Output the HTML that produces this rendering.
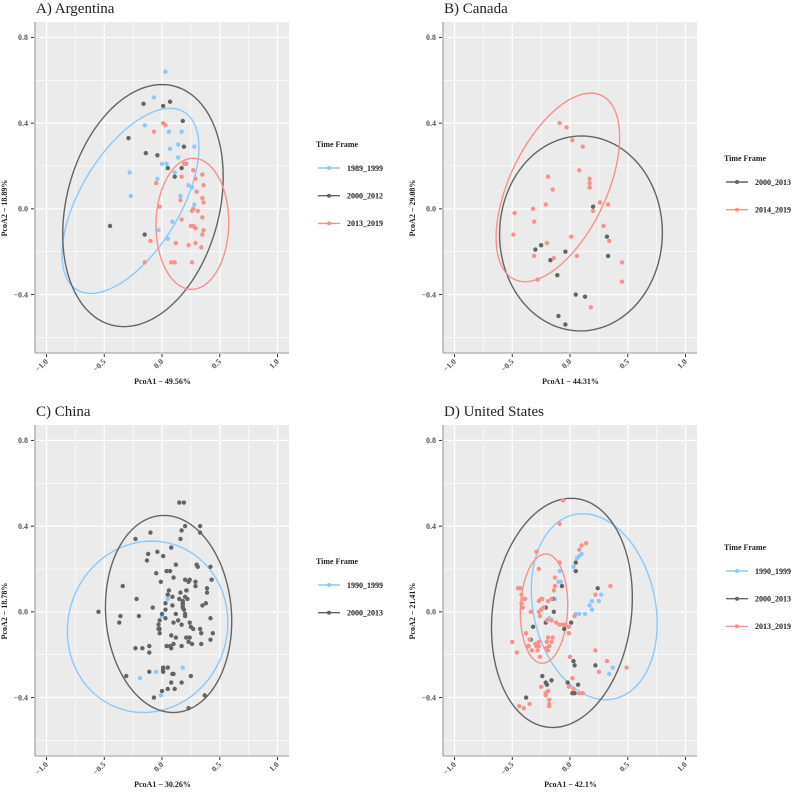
<!DOCTYPE html>
<html><head><meta charset="utf-8">
<style>
html,body{margin:0;padding:0;background:#fff;}
svg{display:block;font-family:"Liberation Serif",serif;}
</style></head>
<body>
<svg id="fig" width="800" height="792" viewBox="0 0 800 792" xmlns="http://www.w3.org/2000/svg"></svg>
<script>
// ---------- Data ----------
const xTicks = [-1.0, -0.5, 0.0, 0.5, 1.0];
const xTickLabels = ["\u22121.0", "\u22120.5", "0.0", "0.5", "1.0"];
const yTicks = [0.8, 0.4, 0.0, -0.4];
const yTickLabels = ["0.8", "0.4", "0.0", "\u22120.4"];
const xMinor = [-0.75, -0.25, 0.25, 0.75];
const yMinor = [0.6, 0.2, -0.2, -0.6];

// Argentina
const arg1989X = [0.03,-0.07,-0.15,0.06,0.17,0.28,0.14,0.07,0.14,0.00,0.04,-0.28,0.11,-0.04,0.23,0.26,0.16,0.28,-0.27,0.09,-0.03,0.05];
const arg1989Y = [0.64,0.52,0.39,0.36,0.36,0.29,0.30,0.28,0.24,0.21,0.21,0.17,0.17,0.14,0.11,0.10,0.06,0.02,0.06,-0.06,-0.10,-0.14];
const arg2000X = [-0.16,0.01,0.07,0.18,-0.29,-0.14,-0.04,0.19,0.05,0.17,0.11,-0.45,-0.15];
const arg2000Y = [0.49,0.48,0.50,0.41,0.33,0.26,0.25,0.29,0.19,0.19,0.15,-0.08,-0.12];
const arg2013X = [-0.07,0.01,0.03,0.19,0.21,0.17,0.27,0.35,0.29,0.36,-0.05,0.30,0.35,0.36,0.16,-0.02,0.27,0.26,0.31,0.17,0.35,0.36,0.25,0.27,0.29,0.35,0.29,0.12,0.23,0.34,-0.10,-0.15,0.08,0.11,0.26];
const arg2013Y = [0.36,0.40,0.39,0.21,0.21,0.15,0.18,0.16,0.14,0.11,0.12,0.08,0.05,0.03,0.04,0.01,0.00,-0.01,-0.01,-0.05,-0.04,-0.10,-0.08,-0.08,-0.09,-0.12,-0.16,-0.16,-0.17,-0.18,-0.15,-0.25,-0.25,-0.25,-0.25];
// ellipse: [centerX, centerY, halfWidthX, halfHeightY, topShiftX]
const argEll1989 = [-0.273, 0.037, 0.593, 0.432, 0.343];
const argEll2000 = [-0.165, 0.015, 0.695, 0.565, 0.165];
const argEll2013 = [0.263, -0.070, 0.315, 0.306, 0.007];

// Canada
const can2000X = [0.20,-0.25,-0.30,-0.04,-0.17,0.32,0.33,-0.11,0.05,0.13,-0.10,-0.04];
const can2000Y = [0.01,-0.17,-0.19,-0.20,-0.24,-0.13,-0.22,-0.31,-0.40,-0.41,-0.50,-0.54];
const can2014X = [-0.09,-0.03,0.02,0.11,0.08,0.17,0.17,0.17,-0.19,-0.15,-0.21,-0.32,-0.48,-0.31,-0.49,0.26,0.33,0.20,0.29,0.34,0.01,-0.20,-0.31,-0.14,0.06,-0.28,0.45,0.45,0.18];
const can2014Y = [0.40,0.38,0.32,0.29,0.18,0.14,0.12,0.10,0.15,0.09,0.02,0.00,-0.02,-0.06,-0.12,0.03,0.02,-0.01,-0.08,-0.15,-0.13,-0.16,-0.22,-0.23,-0.22,-0.33,-0.25,-0.34,-0.46];
const canEll2000 = [0.095, -0.115, 0.705, 0.455, 0.005];
const canEll2014 = [-0.105, 0.100, 0.535, 0.440, 0.285];

// China
const chn1990X = [0.22,0.05,0.00,0.18,-0.05,-0.19,-0.01];
const chn1990Y = [0.10,0.06,-0.02,-0.26,-0.28,-0.31,-0.39];
const chn2000X = [0.15,0.19,0.20,0.17,0.16,0.33,0.33,-0.23,-0.10,0.08,-0.04,-0.12,0.01,-0.13,0.12,-0.05,0.04,0.07,0.30,0.31,0.42,-0.01,0.10,0.20,0.24,0.23,0.29,0.43,-0.34,0.06,0.16,0.21,0.39,0.39,-0.22,0.05,0.09,0.20,0.15,0.18,0.22,0.18,-0.08,0.00,0.03,0.09,0.18,0.18,0.19,0.20,0.38,0.35,-0.36,-0.37,-0.20,-0.02,-0.03,-0.02,0.03,0.10,0.14,0.17,0.20,0.24,0.25,0.27,0.33,0.34,0.42,0.44,0.42,0.08,0.12,0.21,0.24,0.23,0.26,0.17,0.04,0.07,0.08,0.10,0.34,-0.23,-0.17,-0.11,-0.11,-0.02,-0.11,0.01,0.01,0.05,0.09,0.10,0.01,0.08,0.17,0.05,0.00,0.11,-0.07,0.23,0.25,-0.31,0.37,-0.55,0.29,0.03,0.12,-0.03];
const chn2000Y = [0.51,0.51,0.40,0.38,0.34,0.40,0.37,0.34,0.37,0.30,0.28,0.27,0.26,0.24,0.22,0.18,0.19,0.19,0.22,0.21,0.21,0.14,0.16,0.15,0.15,0.14,0.14,0.15,0.12,0.10,0.09,0.10,0.11,0.09,0.06,0.08,0.07,0.07,0.06,0.05,0.06,0.04,0.02,-0.01,0.01,0.03,0.03,0.02,0.01,-0.01,0.04,0.03,-0.02,-0.05,-0.02,-0.04,-0.06,-0.08,-0.03,-0.05,-0.04,-0.06,-0.02,-0.05,-0.07,-0.08,-0.08,-0.10,-0.03,-0.10,-0.13,-0.11,-0.12,-0.12,-0.12,-0.14,-0.15,-0.16,-0.16,-0.16,-0.17,-0.15,-0.15,-0.17,-0.17,-0.16,-0.19,-0.10,-0.28,-0.26,-0.27,-0.26,-0.29,-0.29,-0.28,-0.33,-0.33,-0.36,-0.37,-0.36,-0.40,-0.45,-0.30,-0.30,-0.39,0.00,0.12,0.04,-0.01,-0.08];
const chnEll1990 = [-0.125, -0.070, 0.695, 0.400, 0.035];
const chnEll2000 = [0.057, -0.010, 0.547, 0.460, -0.040];

// United States
const usa1990X = [0.03,0.06,0.08,0.10,-0.09,-0.10,-0.08,-0.13,-0.14,-0.18,-0.01,0.08,0.13,0.19,0.17,0.19,0.25,0.27,0.05,0.37,0.34];
const usa1990Y = [0.21,0.25,0.26,0.27,0.19,0.14,0.14,0.06,0.06,-0.03,-0.10,-0.01,-0.01,0.01,0.03,0.05,0.05,0.08,-0.01,-0.26,-0.29];
const usa2000X = [0.05,0.05,-0.07,-0.15,-0.21,-0.14,-0.21,-0.05,0.01,-0.32,-0.34,-0.36,0.03,0.04,0.22,0.24,-0.24,-0.21,-0.20,-0.16,-0.02,0.07,0.02,0.04,-0.38];
const usa2000Y = [0.23,0.19,0.12,0.06,0.02,0.00,-0.05,-0.08,-0.05,-0.07,-0.13,-0.16,-0.23,-0.25,-0.25,0.11,-0.30,-0.33,-0.34,-0.32,-0.33,-0.34,-0.38,-0.38,-0.40];
const usa2013X = [-0.06,-0.09,0.08,0.10,0.14,-0.29,-0.27,-0.09,-0.13,-0.13,-0.14,-0.16,-0.19,-0.45,-0.43,-0.42,-0.39,-0.40,-0.42,-0.41,-0.34,-0.27,-0.25,-0.24,-0.23,-0.25,-0.27,-0.26,-0.09,-0.06,-0.04,-0.01,-0.01,-0.20,-0.16,-0.12,-0.38,-0.35,-0.27,-0.19,-0.15,-0.20,-0.21,-0.19,-0.18,-0.16,-0.29,-0.27,-0.36,-0.33,-0.28,-0.26,-0.50,-0.46,0.00,0.02,0.03,0.08,0.11,-0.01,-0.25,-0.21,-0.21,-0.19,-0.18,-0.18,-0.18,-0.35,-0.44,-0.40,0.22,0.25,0.32,0.49,0.35,0.22,0.04,-0.30];
const usa2013Y = [0.52,0.41,0.29,0.31,0.32,0.28,0.20,0.23,0.16,0.12,0.10,0.06,0.05,0.11,0.11,0.08,0.06,0.06,0.04,0.02,0.00,0.05,0.06,0.06,0.02,0.01,0.00,-0.02,-0.06,-0.06,-0.06,-0.07,-0.10,-0.04,-0.04,-0.05,-0.10,-0.13,-0.14,-0.12,-0.12,-0.14,-0.17,-0.18,-0.16,-0.14,-0.16,-0.16,-0.16,-0.18,-0.18,-0.21,-0.14,-0.19,-0.21,-0.31,-0.36,-0.38,-0.38,-0.35,-0.35,-0.39,-0.38,-0.37,-0.41,-0.43,-0.44,-0.43,-0.44,-0.45,-0.18,-0.28,-0.23,-0.26,0.12,0.08,-0.02,-0.15];
const usaEll1990 = [0.210, 0.024, 0.545, 0.434, -0.100];
const usaEll2000 = [-0.070, -0.005, 0.610, 0.535, 0.080];
const usaEll2013 = [-0.225, 0.015, 0.205, 0.255, 0.015];

// ---------- Drawing ----------
const NS = "http://www.w3.org/2000/svg";
const svg = document.getElementById("fig");
const C_BLUE = "#8CC8FA", C_GRAY = "#646464", C_RED = "#F8908C";
const XDOM = [-1.1, 1.1], YDOM = [-0.673, 0.872];
const PW = 254, PH = 331;

function mk(tag, attrs, parent) {
  const e = document.createElementNS(NS, tag);
  for (const k in attrs) e.setAttribute(k, attrs[k]);
  (parent || svg).appendChild(e);
  return e;
}
function xScale(p, v) { return p.x + (v - XDOM[0]) / (XDOM[1] - XDOM[0]) * PW; }
function yScale(p, v) { return p.y + (YDOM[1] - v) / (YDOM[1] - YDOM[0]) * PH; }

function drawPanel(p) {
  const g = mk("g", {});
  
  
  const title = mk("text", {x: p.x + 1, y: p.y - 9, "font-size": 15, fill: "#222"}, g);
  title.textContent = p.title;
  
  
  const bg = mk("rect", {x: p.x, y: p.y, width: PW, height: PH, fill: "#EBEBEB"}, g);
  
  
  xMinor.forEach(v => mk("line", {x1: xScale(p, v), x2: xScale(p, v), y1: p.y, y2: p.y + PH, stroke: "#fff", "stroke-width": 0.6}, g));
  yMinor.forEach(v => mk("line", {x1: p.x, x2: p.x + PW, y1: yScale(p, v), y2: yScale(p, v), stroke: "#fff", "stroke-width": 0.6}, g));
  xTicks.forEach(v => mk("line", {x1: xScale(p, v), x2: xScale(p, v), y1: p.y, y2: p.y + PH, stroke: "#fff", "stroke-width": 1.2}, g));
  yTicks.forEach(v => mk("line", {x1: p.x, x2: p.x + PW, y1: yScale(p, v), y2: yScale(p, v), stroke: "#fff", "stroke-width": 1.2}, g));

  p.ells.forEach((e, i) => {
    const [cx, cy, X, Y, s] = e;
    const h = Math.sqrt(Math.max(X * X - s * s, 0));
    let d = "";
    for (let k = 0; k <= 120; k++) {
      const t = k / 120 * 2 * Math.PI;
      const vx = cx + h * Math.cos(t) + s * Math.sin(t);
      const vy = cy + Y * Math.sin(t);
      d += (k ? "L" : "M") + xScale(p, vx).toFixed(2) + "," + yScale(p, vy).toFixed(2);
    }
    const el = mk("path", {d: d + "Z", fill: "none", stroke: p.colors[i], "stroke-width": 1.4}, g);
    
    
  });
  p.series.forEach((s, i) => {
    const sg = mk("g", {}, g);
    
    
    s[0].forEach((vx, j) => {
      const c = mk("circle", {cx: xScale(p, vx), cy: yScale(p, s[1][j]), r: 2.2, fill: p.colors[i]}, sg);
      
      
    });
  });

  const ax = mk("line", {x1: p.x, x2: p.x + PW, y1: p.y + PH, y2: p.y + PH, stroke: "#9a9a9a", "stroke-width": 1.1}, g);
  
  
  const ay = mk("line", {x1: p.x, x2: p.x, y1: p.y, y2: p.y + PH, stroke: "#9a9a9a", "stroke-width": 1.1}, g);
  
  
  xTicks.forEach((v, i) => {
    const px = xScale(p, v), py = p.y + PH;
    mk("line", {x1: px, x2: px, y1: py + 1, y2: py + 4, stroke: "#333", "stroke-width": 1}, g);
    const t = mk("text", {x: px + 2, y: py + 9, "font-size": 8, "font-weight": "bold", fill: "#555", "text-anchor": "end", transform: `rotate(-45 ${px + 2} ${py + 9})`}, g);
    t.textContent = xTickLabels[i];
    
    
  });
  yTicks.forEach((v, i) => {
    const py = yScale(p, v);
    mk("line", {x1: p.x - 4, x2: p.x - 1, y1: py, y2: py, stroke: "#333", "stroke-width": 1}, g);
    const t = mk("text", {x: p.x - 7, y: py + 2.8, "font-size": 8, "font-weight": "bold", fill: "#555", "text-anchor": "end"}, g);
    t.textContent = yTickLabels[i];
    
    
  });
  const xt = mk("text", {x: p.x + PW / 2 + 0.5, y: p.y + PH + 31, "font-size": 8, "font-weight": "bold", fill: "#222", "text-anchor": "middle"}, g);
  xt.textContent = p.xTitle;
  
  
  const yx = p.x - 28, yy = p.y + 186;
  const yt = mk("text", {x: yx, y: yy, "font-size": 8, "font-weight": "bold", fill: "#222", "text-anchor": "middle", transform: `rotate(-90 ${yx} ${yy})`}, g);
  yt.textContent = p.yTitle;
  
  

  const lg = mk("g", {}, g);
  
  
  const lx = p.x + 281, ly = p.legendY;
  const lt = mk("text", {x: lx, y: ly, "font-size": 8.3, "font-weight": "bold", fill: "#222", textLength: 42, lengthAdjust: "spacingAndGlyphs"}, lg);
  lt.textContent = "Time Frame";
  p.labels.forEach((lab, i) => {
    const ey = ly + 21 + i * 27.7;
    const e = mk("g", {}, lg);
    
    
    mk("line", {x1: lx + 2, x2: lx + 24, y1: ey, y2: ey, stroke: p.colors[i], "stroke-width": 1.4}, e);
    mk("circle", {cx: lx + 13, cy: ey, r: 2, fill: p.colors[i]}, e);
    const tt = mk("text", {x: lx + 31, y: ey + 2.8, "font-size": 8.3, "font-weight": "bold", fill: "#222", textLength: 36, lengthAdjust: "spacingAndGlyphs"}, e);
    tt.textContent = lab;
  });
}

drawPanel({key: "argentina", title: "A) Argentina", x: 35, y: 22, legendY: 147,
  xTitle: "PcoA1 \u2212 49.56%", yTitle: "PcoA2 \u2212 18.89%",
  labels: ["1989_1999", "2000_2012", "2013_2019"], colors: [C_BLUE, C_GRAY, C_RED],
  series: [[arg1989X, arg1989Y], [arg2000X, arg2000Y], [arg2013X, arg2013Y]],
  ells: [argEll1989, argEll2000, argEll2013]});
drawPanel({key: "canada", title: "B) Canada", x: 443, y: 22, legendY: 161,
  xTitle: "PcoA1 \u2212 44.31%", yTitle: "PcoA2 \u2212 29.08%",
  labels: ["2000_2013", "2014_2019"], colors: [C_GRAY, C_RED],
  series: [[can2000X, can2000Y], [can2014X, can2014Y]],
  ells: [canEll2000, canEll2014]});
drawPanel({key: "china", title: "C) China", x: 35, y: 425, legendY: 564,
  xTitle: "PcoA1 \u2212 30.26%", yTitle: "PcoA2 \u2212 18.78%",
  labels: ["1990_1999", "2000_2013"], colors: [C_BLUE, C_GRAY],
  series: [[chn1990X, chn1990Y], [chn2000X, chn2000Y]],
  ells: [chnEll1990, chnEll2000]});
drawPanel({key: "united-states", title: "D) United States", x: 443, y: 425, legendY: 550,
  xTitle: "PcoA1 \u2212 42.1%", yTitle: "PcoA2 \u2212 21.41%",
  labels: ["1990_1999", "2000_2013", "2013_2019"], colors: [C_BLUE, C_GRAY, C_RED],
  series: [[usa1990X, usa1990Y], [usa2000X, usa2000Y], [usa2013X, usa2013Y]],
  ells: [usaEll1990, usaEll2000, usaEll2013]});
</script>
</body></html>
